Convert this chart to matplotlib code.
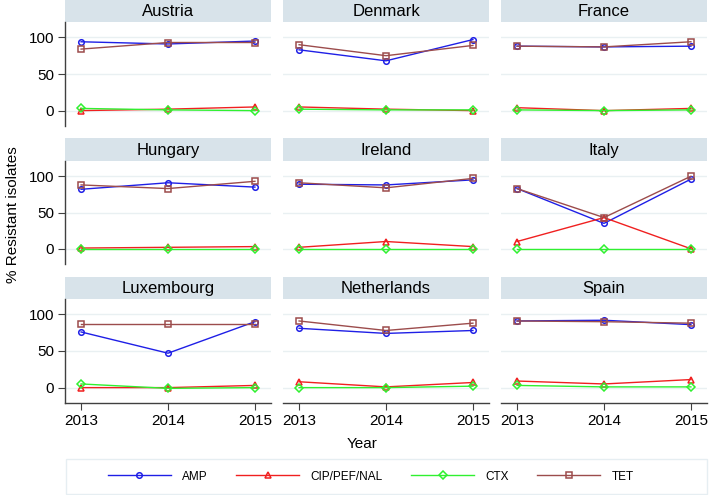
import matplotlib
matplotlib.use("Agg")
import matplotlib.pyplot as plt
from matplotlib.patches import Rectangle

plt.rcParams["font.family"] = ["Liberation Sans", "DejaVu Sans"]

years = [2013, 2014, 2015]
countries = ["Austria", "Denmark", "France",
             "Hungary", "Ireland", "Italy",
             "Luxembourg", "Netherlands", "Spain"]

amp = {
    "Austria": [94, 91, 95],
    "Denmark": [83, 68, 97],
    "France": [88, 87, 88],
    "Hungary": [82, 91, 85],
    "Ireland": [89, 88, 95],
    "Italy": [83, 35, 96],
    "Luxembourg": [76, 47, 90],
    "Netherlands": [81, 74, 78],
    "Spain": [91, 92, 86],
}
cip = {
    "Austria": [0, 2, 5],
    "Denmark": [5, 2, 0],
    "France": [4, 0, 3],
    "Hungary": [1, 2, 3],
    "Ireland": [2, 10, 3],
    "Italy": [10, 43, 0],
    "Luxembourg": [0, 0, 3],
    "Netherlands": [8, 1, 7],
    "Spain": [9, 5, 11],
}
ctx = {
    "Austria": [3, 1, 0],
    "Denmark": [2, 1, 1],
    "France": [1, 0, 1],
    "Hungary": [0, 0, 0],
    "Ireland": [0, 0, 0],
    "Italy": [0, 0, 0],
    "Luxembourg": [5, -1, 0],
    "Netherlands": [0, 0, 2],
    "Spain": [3, 1, 1],
}
tet = {
    "Austria": [84, 93, 93],
    "Denmark": [90, 75, 89],
    "France": [88, 87, 94],
    "Hungary": [88, 83, 93],
    "Ireland": [91, 84, 97],
    "Italy": [83, 43, 100],
    "Luxembourg": [87, 87, 87],
    "Netherlands": [91, 78, 88],
    "Spain": [91, 90, 88],
}
series_names = ["AMP", "CIP/PEF/NAL", "CTX", "TET"]
series_data = [amp, cip, ctx, tet]
series_colors = ["#1f1fe6", "#f02020", "#30f030", "#9c4c4c"]
series_markers = ["o", "^", "D", "s"]
series_msize = [4, 4.5, 4, 4]

W, H = 709, 495
fig = plt.figure(figsize=(W / 100, H / 100), dpi=100)
fig.patch.set_facecolor("white")

cols = [(65, 271), (283, 489), (501, 707)]
rows = [(0, 22, 126), (138, 161, 264), (277, 299, 403)]

strip_color = "#d8e3ea"
grid_color = "#e9f0f2"
axis_color = "#404040"

def rect(x0, y0, x1, y1):
    return [x0 / W, 1 - y1 / H, (x1 - x0) / W, (y1 - y0) / H]

handles = []
for i, country in enumerate(countries):
    r, c = divmod(i, 3)
    x0, x1 = cols[c]
    st, pt, pb = rows[r]
    sax = fig.add_axes(rect(x0, st, x1, pt))
    sax.set_facecolor(strip_color)
    for s in sax.spines.values():
        s.set_visible(False)
    sax.set_xticks([])
    sax.set_yticks([])
    sax.text(0.5, 0.47, country, ha="center", va="center", fontsize=12,
             color="black", transform=sax.transAxes)

    ax = fig.add_axes(rect(x0, pt, x1, pb))
    ax.set_facecolor("white")
    ax.set_xlim(2012.815, 2015.185)
    ax.set_ylim(-21, 121)
    for yv in [0, 50, 100]:
        ax.axhline(yv, color=grid_color, lw=1.0, zorder=0)
    for name, data, col, mk, ms in zip(series_names, series_data,
                                        series_colors, series_markers,
                                        series_msize):
        ln, = ax.plot(years, data[country], color=col, lw=1.0, marker=mk,
                      markersize=ms, markerfacecolor="none",
                      markeredgecolor=col, markeredgewidth=1.1,
                      label=name, zorder=3)
        if i == 0:
            handles.append(ln)
    for s in ["top", "right"]:
        ax.spines[s].set_visible(False)
    if c == 0:
        ax.spines["left"].set_color(axis_color)
        ax.spines["left"].set_linewidth(1.0)
        ax.set_yticks([0, 50, 100])
        ax.set_yticklabels(["0", "50", "100"], fontsize=11)
        ax.tick_params(axis="y", length=5, color=axis_color, pad=3)
    else:
        ax.spines["left"].set_visible(False)
        ax.set_yticks([])
    if r == 2:
        ax.spines["bottom"].set_color(axis_color)
        ax.spines["bottom"].set_linewidth(1.0)
        ax.set_xticks(years)
        ax.set_xticklabels([str(y) for y in years], fontsize=11)
        ax.tick_params(axis="x", length=5, color=axis_color, pad=3)
    else:
        ax.spines["bottom"].set_visible(False)
        ax.set_xticks([])

fig.text(13 / W, 1 - 215 / H, "% Resistant isolates", rotation=90,
         ha="center", va="center", fontsize=11)
fig.text(362 / W, 1 - 444 / H, "Year", ha="center", va="center",
         fontsize=11)

# legend frame
fig.patches.append(Rectangle((66 / W, 1 - 494 / H), (707 - 66) / W, 35 / H,
                             transform=fig.transFigure, facecolor="white",
                             edgecolor="#e6eef2", lw=1.0, zorder=0))
leg = fig.legend(handles, series_names, loc="center",
                 bbox_to_anchor=(371 / W, 1 - 476.5 / H),
                 ncol=4, fontsize=8.5, handlelength=5.3,
                 handletextpad=1.0, columnspacing=2.4, frameon=False,
                 borderaxespad=0.0)

fig.savefig("out.png", dpi=100, facecolor="white")
